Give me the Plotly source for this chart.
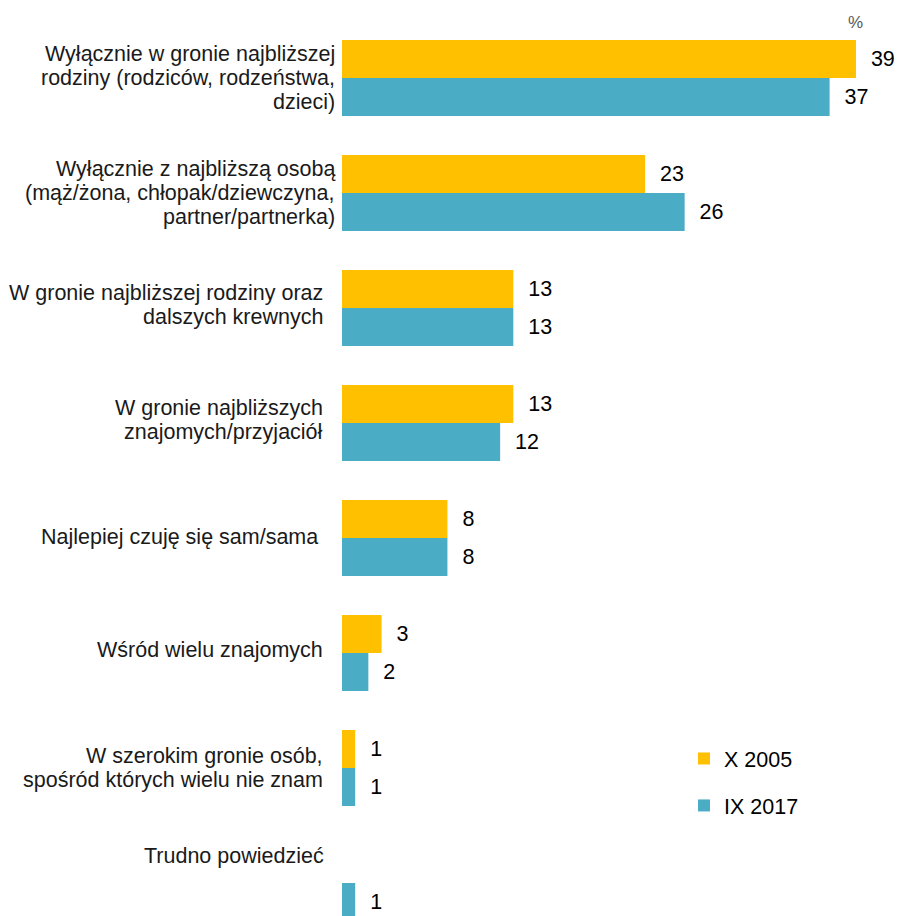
import plotly.graph_objects as go

# ---- data ----
categories = [
    "Wyłącznie w gronie najbliższej<br>rodziny (rodziców, rodzeństwa,<br>dzieci)",
    "Wyłącznie z najbliższą osobą<br>(mąż/żona, chłopak/dziewczyna,<br>partner/partnerka)",
    "W gronie najbliższej rodziny oraz<br>dalszych krewnych",
    "W gronie najbliższych<br>znajomych/przyjaciół",
    "Najlepiej czuję się sam/sama",
    "Wśród wielu znajomych",
    "W szerokim gronie osób,<br>spośród których wielu nie znam",
    "Trudno powiedzieć",
]
series_names = ["X 2005", "IX 2017"]
x2005 = [39, 23, 13, 13, 8, 3, 1, None]
ix2017 = [37, 26, 13, 12, 8, 2, 1, 1]
unit_label = "%"

# ---- style ----
FONT = "Liberation Sans, Arial, sans-serif"
FS = 21.5
LINE = 24
colors = ["#FFC000", "#4BACC6"]
label_xshift = [-5, -5, -17, -17, -22, -17, -17, -16]
label_yshift = [0, 0, 3, 3, 1, 3, 0, 27]
PLOT_L, W, H = 342, 898, 916

fig = go.Figure()
for name, vals, col, grp in zip(series_names, [x2005, ix2017], colors, ["a", "b"]):
    fig.add_trace(go.Bar(
        y=categories, x=vals, orientation="h", name=name,
        marker=dict(color=col, line=dict(width=0)),
        texttemplate="\u00a0\u00a0%{x}", textposition="outside",
        textfont=dict(size=FS, color="#000000", family=FONT),
        cliponaxis=False, constraintext="none", legendgroup=grp,
    ))

for cat, dx, dy in zip(categories, label_xshift, label_yshift):
    lines = cat.split("<br>")
    n = len(lines)
    for k, ln in enumerate(lines):
        fig.add_annotation(
            x=0, y=cat, xref="x", yref="y", text=ln, showarrow=False,
            xanchor="right", yanchor="middle", align="right",
            xshift=dx, yshift=dy + ((n - 1) / 2 - k) * LINE,
            font=dict(size=FS, color="#1a1a1a", family=FONT),
        )

fig.add_annotation(
    x=(855 - PLOT_L) / (W - PLOT_L), y=1 - 23 / H, xref="paper", yref="paper",
    text=unit_label, showarrow=False, xanchor="center", yanchor="middle",
    font=dict(size=17, color="#595959", family=FONT),
)

fig.update_layout(
    width=W, height=H,
    margin=dict(l=PLOT_L, r=0, t=0, b=0),
    paper_bgcolor="white", plot_bgcolor="white",
    barmode="group", bargap=0.339, bargroupgap=0,
    font=dict(family=FONT, size=FS, color="#000000"),
    showlegend=True,
    legend=dict(
        x=(684 - PLOT_L) / (W - PLOT_L), y=1 - 738 / H, xanchor="left", yanchor="top",
        font=dict(size=FS, color="#000000", family=FONT),
        bgcolor="rgba(0,0,0,0)", traceorder="grouped", tracegroupgap=16,
    ),
    xaxis=dict(range=[0, 42.19], visible=False, fixedrange=True),
    yaxis=dict(type="category", range=[7.287, -0.678], visible=False, fixedrange=True),
)

fig.write_html("out.html", config={"displayModeBar": False},
               post_script="document.body.style.margin='0';")
